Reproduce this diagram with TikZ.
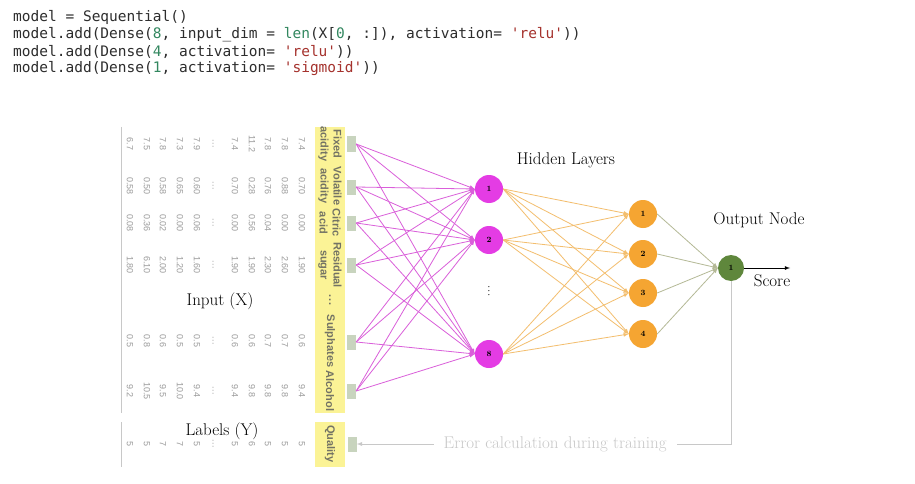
\documentclass[tikz,border=0pt]{standalone}
\usepackage{fontspec}
\newfontfamily\codefont{DejaVu Sans Mono}
\newfontfamily\tabfont{Liberation Sans}
\usetikzlibrary{positioning}

\definecolor{codetxt}{RGB}{45,45,45}
\definecolor{codenum}{RGB}{50,135,95}
\definecolor{codestr}{RGB}{165,50,45}
\definecolor{hdryellow}{RGB}{251,243,150}
\definecolor{hdrtext}{RGB}{115,115,100}
\definecolor{numgray}{RGB}{155,155,155}
\definecolor{inputgreen}{RGB}{200,212,190}
\definecolor{layerA}{RGB}{228,60,228}
\definecolor{edgeA}{RGB}{218,95,218}
\definecolor{layerB}{RGB}{245,165,50}
\definecolor{edgeB}{RGB}{243,190,110}
\definecolor{edgeC}{RGB}{180,185,150}
\definecolor{outgreen}{RGB}{95,135,60}
\definecolor{errgray}{RGB}{200,200,200}

\newcommand\pynum[1]{\textcolor{codenum}{#1}}
\newcommand\pystr[1]{\textcolor{codestr}{\char39 #1\char39}}
\newcommand\tdots{.\kern0.5pt.\kern0.5pt.}

\begin{document}
\begin{tikzpicture}[x=1pt, y=-1pt, >=latex,
    code/.style={anchor=west, inner sep=0pt, text=codetxt,
      font=\codefont\fontsize{14.5}{17.3}\selectfont},
    tabnum/.style={rotate=-90, inner sep=0pt, text=numgray,
      font=\tabfont\fontsize{9}{10}\selectfont},
    hdr/.style={rotate=-90, inner sep=0pt, align=center, text=hdrtext,
      font=\tabfont\bfseries\fontsize{11}{13}\selectfont},
    lbl/.style={inner sep=0pt, font=\fontsize{17}{20}\selectfont},
    inbox/.style={rectangle, fill=inputgreen, minimum width=9pt,
      minimum height=15pt, inner sep=0pt},
    neuron/.style={circle, minimum size=28pt, inner sep=0pt,
      font=\bfseries\fontsize{8}{9}\selectfont},
    hidA/.style={neuron, fill=layerA},
    hidB/.style={neuron, fill=layerB},
    outn/.style={neuron, minimum size=26pt, fill=outgreen},
    wA/.style={->, draw=edgeA, line width=0.8pt},
    wB/.style={->, draw=edgeB, line width=0.8pt},
    wC/.style={->, draw=edgeC, line width=0.8pt},
    errline/.style={draw=errgray, line width=0.9pt}]
\useasboundingbox[fill=white] (0,0) rectangle (915,484);

% keras model
\node[code] (c1) at (13,17) {model = Sequential()};
\node[code] (c2) at (13,35) {model.add(Dense(\pynum{8}, input\_dim = \pynum{len}(X[\pynum{0}, :]), activation= \pystr{relu}))};
\node[code] (c3) at (13,52) {model.add(Dense(\pynum{4}, activation= \pystr{relu}))};
\node[code] (c4) at (13,69) {model.add(Dense(\pynum{1}, activation= \pystr{sigmoid}))};

% data table
\fill[hdryellow] (315,127) rectangle (345,413);
\fill[hdryellow] (315,422) rectangle (345,467);
\draw[errgray, line width=0.8pt] (121,127) -- (121,413);
\draw[errgray, line width=0.8pt] (121,422) -- (121,467);

\node[hdr] (hfix) at (330,144) {Fixed\\acidity};
\node[hdr] (hvol) at (330,186) {Volatile\\acidity};
\node[hdr] (hcit) at (330,223) {Citric\\acid};
\node[hdr] (hres) at (330,265) {Residual\\sugar};
\node[hdr] (hdot) at (330,300) {\tdots};
\node[hdr] (hsul) at (330,341) {Sulphates};
\node[hdr] (halc) at (330,391) {Alcohol};
\node[hdr] (hqua) at (330,444) {Quality};

\foreach \xx/\a/\b/\c/\d/\e/\f/\g [count=\r] in {
    302/7.4/0.70/0.00/1.90/0.6/9.4/5,
    285/7.8/0.88/0.00/2.60/0.7/9.8/5,
    268/7.8/0.76/0.04/2.30/0.7/9.8/5,
    252/11.2/0.28/0.56/1.90/0.6/9.8/6,
    235/7.4/0.70/0.00/1.90/0.6/9.4/5,
    213/\tdots/\tdots/\tdots/\tdots/\tdots/\tdots/\tdots,
    197/7.9/0.60/0.06/1.60/0.5/9.4/5,
    180/7.3/0.65/0.00/1.20/0.5/10.0/7,
    163/7.8/0.58/0.02/2.00/0.6/9.5/7,
    147/7.5/0.50/0.36/6.10/0.8/10.5/5,
    130/6.7/0.58/0.08/1.80/0.5/9.2/5} {
  \node[tabnum] (r\r-1) at (\xx,144) {\a};
  \node[tabnum] (r\r-2) at (\xx,186) {\b};
  \node[tabnum] (r\r-3) at (\xx,223) {\c};
  \node[tabnum] (r\r-4) at (\xx,265) {\d};
  \node[tabnum] (r\r-5) at (\xx,341) {\e};
  \node[tabnum] (r\r-6) at (\xx,391) {\f};
  \node[tabnum] (r\r-7) at (\xx,444) {\g};
}

\node[lbl] (inlbl) at (220,301) {Input (X)};
\node[lbl] (ylbl) at (222,431) {Labels (Y)};

% input units
\foreach \i/\yy in {1/144, 2/187, 3/223, 4/265, 5/342, 6/391}
  \node[inbox] (in\i) at (351.5,\yy) {};
\node[inbox] (inq) at (352,444) {};

% hidden layers
\node[hidA] (ha1) at (489,189) {1};
\node[hidA] (ha2) at (489,240) {2};
\node[hidA] (ha8) at (489,354) {8};
\node[rotate=-90, inner sep=0pt, font=\fontsize{12}{12}\selectfont] (hadots) at (489,291) {\tdots};

\node[hidB] (hb1) at (643,214) {1};
\node[hidB] (hb2) at (643,254) {2};
\node[hidB] (hb3) at (643,293) {3};
\node[hidB] (hb4) at (643,334) {4};

\node[outn] (out) at (731,268) {1};
\coordinate (score) at (790,268);

\node[lbl] (hidlbl) at (566,160) {Hidden Layers};
\node[lbl] (outlbl) at (759,220) {Output Node};
\node[lbl] (scorelbl) at (772,281) {Score};

% weights
\foreach \i in {1,...,6}
  \foreach \j in {1,2,8}
    \draw[wA] (in\i.east) -- (ha\j.west);
\foreach \j in {1,2,8}
  \foreach \k in {1,...,4}
    \draw[wB] (ha\j.east) -- (hb\k.west);
\foreach \k in {1,...,4}
  \draw[wC] (hb\k.east) -- (out.west);
\draw[->, line width=0.8pt] (out.east) -- (score);

% training feedback
\draw[errline, ->] (out.south) |- node[pos=0.735, fill=white, inner xsep=10pt,
    text=errgray, font=\fontsize{17}{20}\selectfont] (errlbl)
    {Error calculation during training} (inq.east);
\end{tikzpicture}
\end{document}
